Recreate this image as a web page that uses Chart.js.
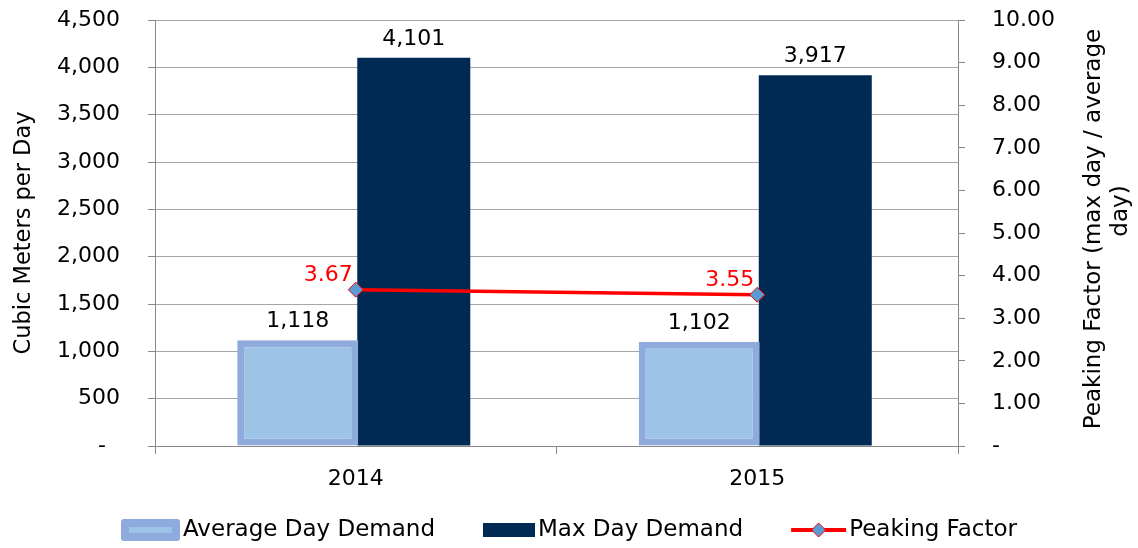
<!DOCTYPE html>
<html>
<head>
<meta charset="utf-8">
<script src="https://cdn.jsdelivr.net/npm/chart.js@4.4.0/dist/chart.umd.min.js"></script>
<style>
  html, body { margin: 0; padding: 0; background: #fff; }
</style>
</head>
<body>
<canvas id="chart" width="1138" height="548"></canvas>
<script>
// Chart data
var years = ["2014", "2015"];
var avgDay = [1118, 1102];
var maxDay = [4101, 3917];
var peaking = [3.67, 3.55];

// Axis ranges / tick steps
var leftMax = 4500, leftStep = 500;
var rightMax = 10, rightStep = 1;

var FONT = "'DejaVu Sans', sans-serif";
var AVG_FILL = "#9DC3E6", AVG_BORDER = "#8FAADC";
var MAX_FILL = "#002A54";
var LINE_RED = "#FF0000", MARKER = "#5B9BD5";
var AXIS_GRAY = "#888888", GRID_GRAY = "#A6A6A6";

Chart.defaults.font.family = FONT;
Chart.defaults.font.size = 22;
Chart.defaults.color = "#000";

// Draw the value labels above bars / left of line points
var valueLabels = {
  id: "valueLabels",
  afterDatasetsDraw: function (chart) {
    var ctx = chart.ctx;
    ctx.save();
    ctx.font = "22px " + FONT;
    chart.data.datasets.forEach(function (ds, i) {
      var meta = chart.getDatasetMeta(i);
      meta.data.forEach(function (el, j) {
        var v = ds.data[j];
        if (ds.type === "line") {
          ctx.fillStyle = LINE_RED;
          ctx.textAlign = "right";
          ctx.textBaseline = "alphabetic";
          ctx.fillText(v.toFixed(2), el.x - 3, el.y - 9);
        } else {
          ctx.fillStyle = "#000";
          ctx.textAlign = "center";
          ctx.textBaseline = "alphabetic";
          ctx.fillText(v.toLocaleString("en-US"), el.x, el.y - 13);
        }
      });
    });
    ctx.restore();
  }
};

// Right axis title (reads bottom to top) and the legend
var extras = {
  id: "extras",
  afterDraw: function (chart) {
    var ctx = chart.ctx;
    ctx.save();
    ctx.font = "23px " + FONT;
    ctx.fillStyle = "#000";
    ctx.textAlign = "center";
    ctx.textBaseline = "middle";
    ctx.translate(1094, 229);
    ctx.rotate(-Math.PI / 2);
    ctx.fillText("Peaking Factor (max day / average", 0, 0);
    ctx.fillText("day)", 18, 27);
    ctx.restore();

    // legend
    var items = [
      { text: "Average Day Demand", w: 59, draw: function (x, cy) {
          ctx.fillStyle = AVG_BORDER;
          ctx.beginPath();
          ctx.roundRect(x, cy - 11, 59, 22, 3);
          ctx.fill();
          ctx.fillStyle = AVG_FILL;
          ctx.fillRect(x + 8, cy - 3, 43, 6);
        } },
      { text: "Max Day Demand", w: 52, draw: function (x, cy) {
          ctx.fillStyle = MAX_FILL;
          ctx.fillRect(x, cy - 7, 52, 14);
        } },
      { text: "Peaking Factor", w: 55, draw: function (x, cy) {
          ctx.strokeStyle = LINE_RED;
          ctx.lineWidth = 4;
          ctx.beginPath();
          ctx.moveTo(x, cy);
          ctx.lineTo(x + 55, cy);
          ctx.stroke();
          ctx.fillStyle = MARKER;
          ctx.lineWidth = 1;
          ctx.beginPath();
          ctx.moveTo(x + 27.5, cy - 7);
          ctx.lineTo(x + 34.5, cy);
          ctx.lineTo(x + 27.5, cy + 7);
          ctx.lineTo(x + 20.5, cy);
          ctx.closePath();
          ctx.fill();
          ctx.stroke();
        } }
    ];
    ctx.save();
    ctx.font = "23px " + FONT;
    var gap = 3, spacing = 48, total = 0;
    items.forEach(function (it, k) {
      it.tw = ctx.measureText(it.text).width;
      total += it.w + gap + it.tw + (k ? spacing : 0);
    });
    var x = (chart.width - total) / 2;
    var cy = 530;
    items.forEach(function (it) {
      it.draw(x, cy);
      ctx.fillStyle = "#000";
      ctx.textAlign = "left";
      ctx.textBaseline = "middle";
      ctx.fillText(it.text, x + it.w + gap, cy);
      x += it.w + gap + it.tw + spacing;
    });
    ctx.restore();
  }
};

// keep the tick padding from pushing the plot area down
function fixVertical(width) {
  return function (s) {
    s.width = width;
    s.paddingTop = 0;
    s.paddingBottom = 0;
  };
}

new Chart(document.getElementById("chart"), {
  data: {
    labels: years,
    datasets: [
      {
        type: "line",
        label: "Peaking Factor",
        data: peaking,
        yAxisID: "y1",
        borderColor: LINE_RED,
        borderWidth: 3.5,
        pointStyle: "rectRot",
        pointRadius: 7.5,
        pointBackgroundColor: MARKER,
        pointBorderColor: LINE_RED,
        pointBorderWidth: 1,
        order: 0
      },
      {
        type: "bar",
        label: "Average Day Demand",
        data: avgDay,
        yAxisID: "y",
        backgroundColor: AVG_FILL,
        borderColor: AVG_BORDER,
        borderWidth: 7,
        borderSkipped: false,
        barPercentage: 1.043,
        categoryPercentage: 0.578,
        order: 1
      },
      {
        type: "bar",
        label: "Max Day Demand",
        data: maxDay,
        yAxisID: "y",
        backgroundColor: MAX_FILL,
        barPercentage: 0.974,
        categoryPercentage: 0.578,
        order: 2
      }
    ]
  },
  options: {
    responsive: false,
    animation: false,
    layout: { padding: { top: 20, left: 0, right: 0, bottom: 0 } },
    plugins: {
      legend: { display: false },
      tooltip: { enabled: false }
    },
    scales: {
      x: {
        offset: true,
        grid: { offset: true, drawOnChartArea: false, tickLength: 8, tickColor: AXIS_GRAY },
        border: { color: AXIS_GRAY },
        ticks: { padding: 12 },
        afterFit: function (s) { s.height = 102; }
      },
      y: {
        position: "left",
        min: 0,
        max: leftMax,
        ticks: {
          stepSize: leftStep,
          padding: 28,
          callback: function (v) { return v === 0 ? "-  " : v.toLocaleString("en-US"); }
        },
        grid: { color: GRID_GRAY, tickLength: 7, tickColor: AXIS_GRAY },
        border: { color: AXIS_GRAY },
        title: {
          display: true,
          text: "Cubic Meters per Day",
          font: { size: 22.5 },
          padding: { top: 11, bottom: 0 }
        },
        afterFit: fixVertical(155)
      },
      y1: {
        position: "right",
        min: 0,
        max: rightMax,
        ticks: {
          stepSize: rightStep,
          padding: 27,
          callback: function (v) { return v === 0 ? "-" : v.toFixed(2); }
        },
        grid: { drawOnChartArea: false, tickLength: 7, tickColor: AXIS_GRAY },
        border: { color: AXIS_GRAY },
        afterFit: fixVertical(180)
      }
    }
  },
  plugins: [valueLabels, extras]
});
</script>
</body>
</html>
